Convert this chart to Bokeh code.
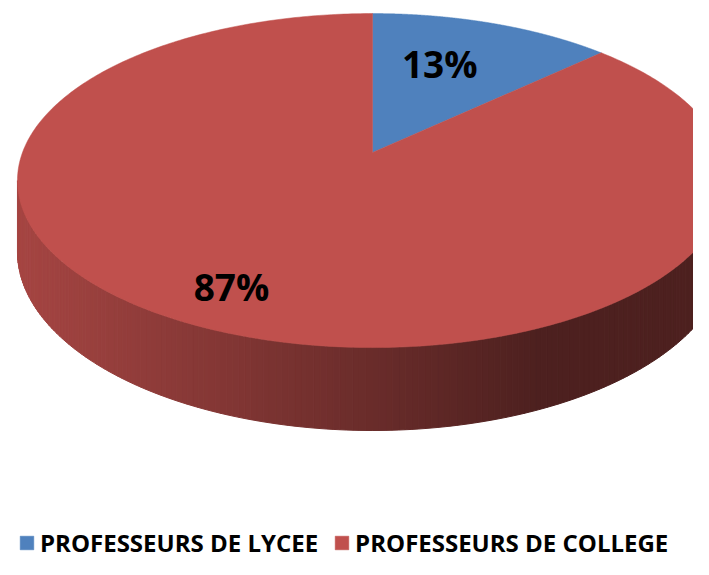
import numpy as np
from bokeh.plotting import figure
from bokeh.models import ColumnDataSource, Range1d, Legend, LegendItem
from bokeh.embed import file_html
from bokeh.resources import INLINE
from bokeh.core.properties import value

# ---- data ----
categories = ["PROFESSEURS DE LYCEE", "PROFESSEURS DE COLLEGE"]
shares = [13, 87]
labels = ["13%", "87%"]
colors = ["#4F81BD", "#C0504D"]

# ---- 3D projection settings ----
CX, CY = 372.0, 152.0   # apex of the pie top face (px)
A, B = 350.0, 162.3     # semi axes
P = 0.168               # perspective strength
H = 69.0                # thickness
LABEL_R = [0.66, 0.79]
LABEL_DX = -16


def proj(theta, r=1.0):
    u = r * np.sin(theta)
    v = -r * np.cos(theta)
    s = 1.0 / (1.0 - P * v)
    return CX + A * u * s, CY + B * v * s, s


def hex_to_rgb(h):
    h = h.lstrip("#")
    return np.array([int(h[i:i + 2], 16) for i in (0, 2, 4)], dtype=float)


def rgb_to_hex(c):
    c = np.clip(np.round(c), 0, 255).astype(int)
    return "#%02x%02x%02x" % tuple(c)


total = float(sum(shares))
bounds = np.concatenate([[0.0], np.cumsum(shares) / total * 2 * np.pi])

# ---- figure ----
p = figure(width=693, height=559, x_range=Range1d(0, 693), y_range=Range1d(559, 0),
           output_backend="svg", toolbar_location=None, min_border=0,
           x_axis_location=None, y_axis_location=None)
p.grid.visible = False
p.outline_line_color = None
p.background_fill_color = "white"

# ---- side (visible front part) with shading gradient ----
fine = np.linspace(0, 2 * np.pi, 3601)
fx, _, _ = proj(fine)
t_right = fine[np.argmax(fx)]
t_left = fine[np.argmin(fx)]
ts = np.linspace(t_right, t_left, 181)
side_xs, side_ys, side_cols = [], [], []
for t0, t1 in zip(ts[:-1], ts[1:]):
    x0, y0, s0 = proj(t0)
    x1, y1, s1 = proj(t1)
    tm = 0.5 * (t0 + t1)
    idx = int(np.searchsorted(bounds, tm, side="right") - 1)
    idx = min(max(idx, 0), len(shares) - 1)
    base = hex_to_rgb(colors[idx])
    xm = 0.5 * (x0 + x1)
    f = np.clip((xm - 20.0) / (540.0 - 20.0), 0, 1)
    shade = 0.86 + (0.40 - 0.86) * f
    side_xs.append([x0, x1, x1, x0])
    side_ys.append([y0, y1, y1 + H * s1, y0 + H * s0])
    side_cols.append(rgb_to_hex(base * shade))

p.patches(xs="xs", ys="ys", source=ColumnDataSource(dict(xs=side_xs, ys=side_ys, c=side_cols)),
          fill_color="c", line_color="c", line_width=1)

# ---- top face slices ----
top_xs, top_ys = [], []
for i in range(len(shares)):
    th = np.linspace(bounds[i], bounds[i + 1], 400)
    x, y, _ = proj(th)
    top_xs.append(np.concatenate([[CX], x]).tolist())
    top_ys.append(np.concatenate([[CY], y]).tolist())

top = p.patches(xs="xs", ys="ys",
                source=ColumnDataSource(dict(xs=top_xs, ys=top_ys, c=colors, name=categories)),
                fill_color="c", line_color="c", line_width=0.5)

# ---- labels ----
lx, ly = [], []
for i in range(len(shares)):
    mid = 0.5 * (bounds[i] + bounds[i + 1])
    x, y, _ = proj(mid, LABEL_R[i])
    lx.append(x + LABEL_DX)
    ly.append(y)
p.text(x="x", y="y", text="t", source=ColumnDataSource(dict(x=lx, y=ly, t=labels)),
       text_font=value("Open Sans"), text_font_style="bold", text_font_size="37px",
       text_color="black", text_align="center", text_baseline="middle")

# ---- legend ----
legend = Legend(items=[LegendItem(label=categories[i], renderers=[top], index=i)
                       for i in range(len(categories))],
                orientation="horizontal", location=(18, 0),
                label_text_font="Open Sans", label_text_font_style="bold",
                label_text_font_size="24px", label_text_color="black",
                glyph_width=17, glyph_height=17, label_standoff=5, spacing=15,
                padding=0, margin=0, border_line_alpha=0, background_fill_alpha=0)
p.add_layout(legend)

open("out.html", "w").write(file_html(p, INLINE))
